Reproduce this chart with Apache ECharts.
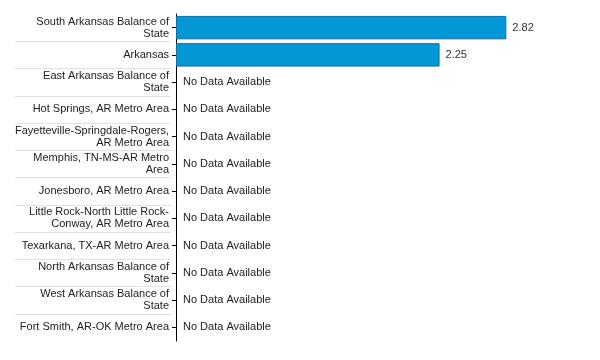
<!DOCTYPE html>
<html><head><meta charset="utf-8">
<script src="https://cdn.jsdelivr.net/npm/echarts@6/dist/echarts.min.js"></script>
<style>html,body{margin:0;padding:0;background:#fff}#c{width:600px;height:360px}</style>
</head><body><div id="c"></div>
<script>
var categories = [
  "South Arkansas Balance of\nState",
  "Arkansas",
  "East Arkansas Balance of\nState",
  "Hot Springs, AR Metro Area",
  "Fayetteville-Springdale-Rogers,\nAR Metro Area",
  "Memphis, TN-MS-AR Metro\nArea",
  "Jonesboro, AR Metro Area",
  "Little Rock-North Little Rock-\nConway, AR Metro Area",
  "Texarkana, TX-AR Metro Area",
  "North Arkansas Balance of\nState",
  "West Arkansas Balance of\nState",
  "Fort Smith, AR-OK Metro Area"
];
var values = [2.82, 2.25, null, null, null, null, null, null, null, null, null, null];
var noDataText = "No Data Available";

var noData = values.map(function(v){ return v == null ? 0 : '-'; });
var chart = echarts.init(document.getElementById('c'));
var font = 'Liberation Sans, Arial, sans-serif';
var TOP = 14, BOTTOM = 19;
var band = (360 - TOP - BOTTOM) / categories.length;
chart.setOption({
  animation: false,
  grid: [
    {left: 176, right: 14, top: TOP, bottom: BOTTOM, containLabel: false},
    {left: 15, width: 156, top: TOP + band, bottom: BOTTOM + band}
  ],
  xAxis: [
    {gridIndex: 0, type: 'value', min: 0, max: 3.5, show: false},
    {gridIndex: 1, type: 'value', min: 0, max: 1, show: false,
     axisLine: {show: false}, splitLine: {show: false}}
  ],
  yAxis: [
    {gridIndex: 0, type: 'category', data: categories, inverse: true,
     axisLine: {show: true, lineStyle: {color: '#000', width: 1}},
     axisTick: {show: true, alignWithLabel: true, length: 4, lineStyle: {color: '#000'}},
     axisLabel: {fontFamily: font, fontSize: 11, color: '#222', lineHeight: 12, margin: 7, align: 'right'},
     splitLine: {show: false}},
    {gridIndex: 1, type: 'value', min: 1, max: categories.length - 1, interval: 1, inverse: true,
     axisLine: {show: false}, axisTick: {show: false}, axisLabel: {show: false},
     splitLine: {show: true, lineStyle: {color: '#e2e2e2', width: 1}}}
  ],
  series: [
    {type: 'bar', xAxisIndex: 0, yAxisIndex: 0, data: values, barCategoryGap: '14%',
     itemStyle: {color: '#0497d5', borderColor: '#0f6e9e', borderWidth: 1},
     label: {show: true, position: 'right', distance: 6, fontFamily: font, fontSize: 11, color: '#333',
       formatter: function(p){ return p.value.toFixed(2); }}},
    {type: 'bar', xAxisIndex: 0, yAxisIndex: 0, data: noData, barGap: '-100%', barCategoryGap: '14%',
     itemStyle: {color: 'transparent'},
     label: {show: true, position: 'right', distance: 7, fontFamily: font, fontSize: 11, color: '#222',
       formatter: function(){ return noDataText; }}}
  ]
});
</script></body></html>
